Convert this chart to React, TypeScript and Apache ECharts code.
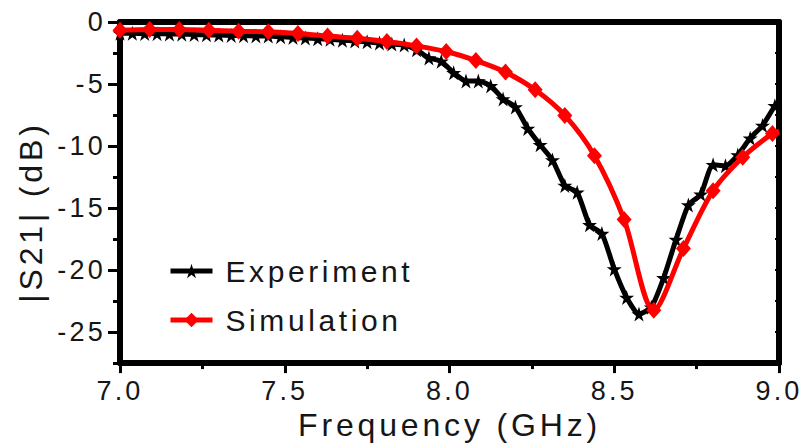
import React, { useEffect, useRef } from 'react';
import * as echarts from 'echarts';

// Experiment: marker frequencies (GHz) and |S21| (dB)
const expFreq = [
  7.0, 7.0375, 7.075, 7.1125, 7.15, 7.1875, 7.225, 7.2625, 7.3, 7.3375,
  7.375, 7.4125, 7.45, 7.4875, 7.525, 7.5625, 7.6, 7.6375, 7.675, 7.7125,
  7.75, 7.7875, 7.825, 7.8625, 7.9, 7.9375, 7.975, 8.0125, 8.05, 8.0875,
  8.125, 8.1625, 8.2, 8.2375, 8.275, 8.3125, 8.35, 8.3875, 8.425, 8.4625,
  8.5, 8.5375, 8.575, 8.6125, 8.65, 8.6875, 8.725, 8.7625, 8.8, 8.8375,
  8.875, 8.9125, 8.95, 8.9875, 9.0,
];
const expS21 = [
  -0.9, -0.91, -0.93, -0.94, -0.97, -0.98, -1.01, -1.03, -1.05, -1.08,
  -1.1, -1.12, -1.13, -1.18, -1.24, -1.29, -1.35, -1.4, -1.47, -1.53,
  -1.6, -1.69, -1.77, -1.85, -2.24, -2.9, -3.17, -4.09, -4.75, -4.75,
  -5.15, -6.2, -6.86, -8.58, -9.9, -11.12, -13.18, -13.73, -16.35, -17.06,
  -19.91, -22.21, -23.55, -23.0, -20.63, -17.54, -14.76, -13.89, -11.51, -11.59,
  -10.72, -9.37, -8.34, -6.76, -6.44,
];

// Simulation
const simFreq = [
  7.0, 7.09, 7.18, 7.27, 7.36, 7.45, 7.54, 7.63, 7.72, 7.81, 7.9, 7.99,
  8.08, 8.17, 8.26, 8.35, 8.44, 8.53, 8.62, 8.71, 8.8, 8.89, 8.98, 9.0,
];
const simS21 = [
  -0.66, -0.6, -0.6, -0.66, -0.74, -0.79, -0.92, -1.13, -1.31, -1.58, -1.93, -2.38,
  -3.11, -4.04, -5.47, -7.53, -10.78, -15.93, -23.24, -18.27, -13.6, -10.9, -8.98, -8.8,
];

const xMin = 7.0;
const xMax = 9.0;
const xStep = 0.5;
const yMin = -27.5;
const yMax = 0;
const yMajorTicks = [0, -5, -10, -15, -20, -25];
const yMinorStep = 2.5;

const xTitle = 'Frequency (GHz)';
const yTitle = '|S21| (dB)';
const seriesNames = ['Experiment', 'Simulation'];

const STAR =
  'path://M0,-10L2.245,-3.09L9.51,-3.09L3.633,1.18L5.88,8.09L0,3.82L-5.88,8.09L-3.633,1.18L-9.51,-3.09L-2.245,-3.09Z';

const FONT = "'Liberation Sans', Arial, sans-serif";
const TXT = '#161616';

function toData(xs: number[], ys: number[]) {
  return xs.map((x, i) => {
    const last = i === xs.length - 1;
    return last ? { value: [x, ys[i]], symbol: 'none' } : [x, ys[i]];
  });
}

const mkLine = (w: number) => ({ show: true, onZero: false, lineStyle: { color: '#000', width: w } });

export default function App() {
  const ref = useRef<HTMLDivElement>(null);

  useEffect(() => {
    if (!ref.current) return;
    const chart = echarts.init(ref.current, undefined, { renderer: 'svg' });
    chart.setOption({
      animation: false,
      backgroundColor: '#fff',
      grid: { left: 120, right: 25, top: 22, bottom: 78 },
      legend: {
        data: seriesNames,
        orient: 'vertical',
        left: 163,
        top: 251,
        itemWidth: 42,
        itemHeight: 18,
        itemGap: 19,
        lineStyle: { width: 5 },
        textStyle: { fontSize: 30, fontFamily: FONT, color: TXT, lineHeight: 30, padding: [0, 0, 0, 8] },
      },
      xAxis: [
        {
          type: 'value',
          min: xMin,
          max: xMax,
          interval: xStep,
          position: 'bottom',
          axisLine: mkLine(6),
          axisTick: { show: true, inside: false, length: 10, lineStyle: { width: 3, color: '#000' } },
          minorTick: { show: true, splitNumber: 2, length: 6, lineStyle: { width: 3, color: '#000' } },
          axisLabel: {
            margin: 14,
            fontSize: 27,
            fontFamily: FONT,
            color: TXT,
            formatter: (v: number) => v.toFixed(1),
          },
          splitLine: { show: false },
          name: xTitle,
          nameLocation: 'middle',
          nameGap: 38,
          nameTextStyle: { fontSize: 32, fontFamily: FONT, color: TXT },
        },
        {
          type: 'value',
          min: xMin,
          max: xMax,
          interval: xStep,
          position: 'top',
          axisLine: mkLine(6),
          axisTick: { show: false },
          axisLabel: { show: false },
          splitLine: { show: false },
        },
      ],
      yAxis: [
        {
          type: 'value',
          min: yMin,
          max: yMax,
          position: 'left',
          axisLine: mkLine(6),
          axisTick: { show: true, inside: false, length: 12, customValues: yMajorTicks, lineStyle: { width: 3, color: '#000' } },
          axisLabel: {
            margin: 14,
            fontSize: 27,
            fontFamily: FONT,
            color: TXT,
            customValues: yMajorTicks,
          },
          splitLine: { show: false },
        },
        {
          type: 'value',
          min: yMin,
          max: yMax,
          interval: yMinorStep,
          position: 'left',
          offset: 0,
          axisLine: { show: false },
          axisTick: { show: true, inside: false, length: 7, lineStyle: { width: 3, color: '#000' } },
          axisLabel: { show: false },
          splitLine: { show: false },
        },
        {
          type: 'value',
          min: yMin,
          max: yMax,
          interval: yMinorStep,
          position: 'right',
          axisLine: mkLine(6),
          axisTick: { show: true, inside: true, length: 4, lineStyle: { width: 2, color: '#000' } },
          axisLabel: { show: false },
          splitLine: { show: false },
        },
      ],
      graphic: [
        {
          type: 'text',
          x: 31,
          y: 212,
          rotation: Math.PI / 2,
          style: {
            text: yTitle,
            fontSize: 32,
            fontFamily: FONT,
            fill: TXT,
            align: 'center',
            verticalAlign: 'middle',
          },
        },
      ],
      series: [
        {
          name: seriesNames[0],
          type: 'line',
          xAxisIndex: 0,
          yAxisIndex: 0,
          data: toData(expFreq, expS21),
          smooth: 0.2,
          symbol: STAR,
          symbolSize: 15,
          showAllSymbol: true,
          lineStyle: { color: '#000', width: 5 },
          itemStyle: { color: '#000' },
          z: 3,
        },
        {
          name: seriesNames[1],
          type: 'line',
          xAxisIndex: 0,
          yAxisIndex: 0,
          data: toData(simFreq, simS21),
          smooth: 0.3,
          symbol: 'diamond',
          symbolSize: [15, 17],
          showAllSymbol: true,
          lineStyle: { color: '#ff0000', width: 5 },
          itemStyle: { color: '#ff0000' },
          z: 4,
        },
      ],
    });
    return () => chart.dispose();
  }, []);

  return (
    <>
      <style>{`.s21chart text { letter-spacing: 0.12em; }`}</style>
      <div
        ref={ref}
        className="s21chart"
        style={{ position: 'fixed', left: 0, top: 0, width: 804, height: 446 }}
      />
    </>
  );
}
